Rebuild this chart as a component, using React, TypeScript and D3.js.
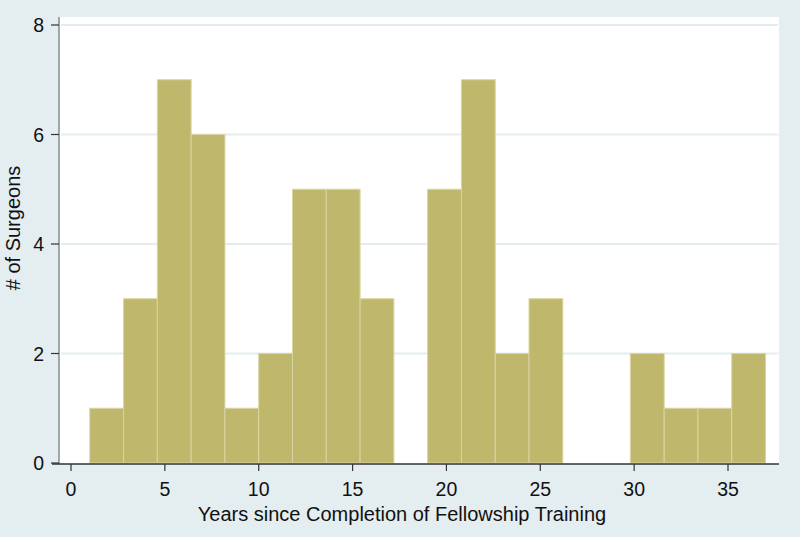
import React from "react";
import * as d3 from "d3";

const binStart = 1;
const binWidth = 1.8;
const counts = [1, 3, 7, 6, 1, 2, 5, 5, 3, 0, 5, 7, 2, 3, 0, 0, 2, 1, 1, 2];
const xTicks = [0, 5, 10, 15, 20, 25, 30, 35];
const yTicks = [0, 2, 4, 6, 8];
const xTitle = "Years since Completion of Fellowship Training";
const yTitle = "# of Surgeons";

export default function App() {
  const W = 800, H = 537;
  const plotL = 59, plotR = 779, plotT = 17, plotB = 464;
  const x = d3.scaleLinear().domain([0, 35]).range([71, 728]);
  const y = d3.scaleLinear().domain([0, 8]).range([463, 25]);
  const font = "Liberation Sans, Arial, sans-serif";
  return (
    <svg width={W} height={H} style={{ position: "absolute", left: 0, top: 0 }} fontFamily={font}>
      <rect x={0} y={0} width={W} height={H} fill="#e4edef" />
      <rect x={plotL} y={plotT} width={plotR - plotL} height={plotB - plotT} fill="#ffffff" />
      {yTicks.filter(t => t > 0).map(t => (
        <line key={t} x1={plotL + 2} x2={plotR - 1} y1={y(t)} y2={y(t)} stroke="#e3edf0" strokeWidth={2} />
      ))}
      {counts.map((c, i) => {
        if (c === 0) return null;
        const x0 = x(binStart + i * binWidth);
        const x1 = x(binStart + (i + 1) * binWidth);
        return (
          <rect key={i} x={x0} y={y(c)} width={x1 - x0} height={y(0) - y(c)}
            fill="#bfb76c" stroke="#d9d4a2" strokeWidth={1} />
        );
      })}
      <line x1={plotL} x2={plotL} y1={plotT} y2={plotB} stroke="#8a8a8a" strokeWidth={1.5} />
      <line x1={52} x2={plotR} y1={plotB} y2={plotB} stroke="#333" strokeWidth={1.5} />
      {yTicks.map(t => (
        <g key={t}>
          <line x1={51} x2={plotL} y1={y(t)} y2={y(t)} stroke="#333" strokeWidth={1.2} />
          <text x={44} y={y(t)} dy="0.36em" textAnchor="end" fontSize={19.5} fill="#111">{t}</text>
        </g>
      ))}
      {xTicks.map(t => (
        <g key={t}>
          <line x1={x(t)} x2={x(t)} y1={plotB} y2={plotB + 7} stroke="#333" strokeWidth={1.2} />
          <text x={x(t)} y={496} textAnchor="middle" fontSize={19.5} fill="#111">{t}</text>
        </g>
      ))}
      <text x={402} y={521} textAnchor="middle" fontSize={20} fill="#111">{xTitle}</text>
      <text transform={`translate(20,228) rotate(-90)`} textAnchor="middle" fontSize={20} fill="#111">{yTitle}</text>
    </svg>
  );
}
